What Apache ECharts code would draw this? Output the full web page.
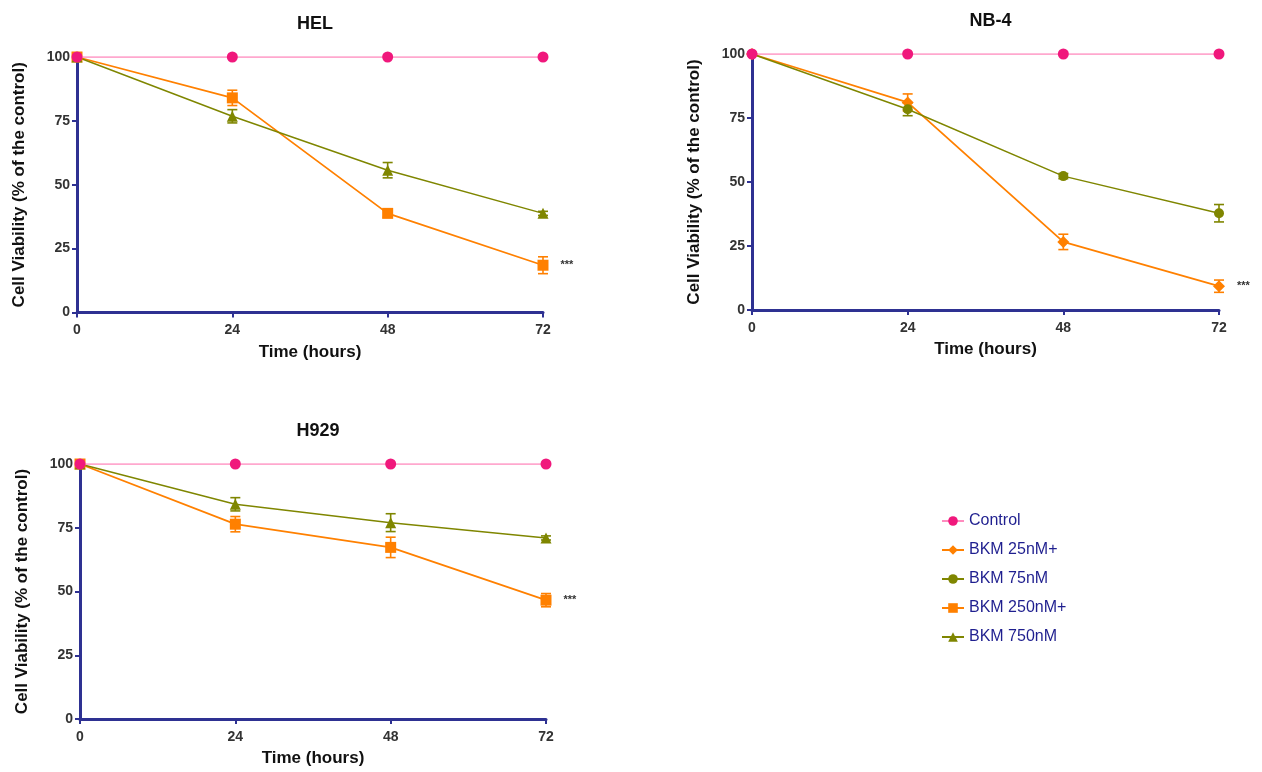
<!DOCTYPE html>
<html>
<head>
<meta charset="utf-8">
<script src="https://cdn.jsdelivr.net/npm/echarts@6/dist/echarts.min.js"></script>
<style>
html,body{margin:0;padding:0;background:#fff;}
#main{width:1262px;height:772px;}
</style>
</head>
<body>
<div id="main"></div>
<script>
// ---- Data ----
const timePoints = [0, 24, 48, 72];
const yTicks = [0, 25, 50, 75, 100];
const panelTitles = ['HEL', 'NB-4', 'H929'];
const seriesNames = ['Control', 'BKM 25nM+', 'BKM 75nM', 'BKM 250nM+', 'BKM 750nM'];

const helControl = [100, 100, 100, 100];
const helBKM250 = [100, 84.0, 38.8, 18.5];
const helBKM250Err = [0, 3.0, 1.5, 3.3];
const helBKM750 = [100, 76.8, 55.7, 38.8];
const helBKM750Err = [0, 2.6, 3.0, 0.8];

const nbControl = [100, 100, 100, 100];
const nbBKM25 = [100, 81.1, 26.6, 9.3];
const nbBKM25Err = [0, 3.3, 3.0, 2.4];
const nbBKM75 = [100, 78.4, 52.3, 37.8];
const nbBKM75Err = [0, 2.5, 1.0, 3.4];

const h929Control = [100, 100, 100, 100];
const h929BKM250 = [100, 76.4, 67.3, 46.6];
const h929BKM250Err = [0, 3.0, 4.0, 2.6];
const h929BKM750 = [100, 84.2, 77.0, 71.0];
const h929BKM750Err = [0, 2.6, 3.5, 0.8];

const sigLabel = '***';

// ---- Styles ----
const FONT = 'Arial, "Liberation Sans", sans-serif';
const AXIS_COLOR = '#2E3192';
const PINK = '#F0187C';
const PINK_LINE = '#FF8CBF';
const ORANGE = '#FF8000';
const OLIVE = '#7F8600';

const styles = {
  'Control': {color: PINK, line: PINK_LINE, symbol: 'circle', size: 11, width: 1.5},
  'BKM 25nM+': {color: ORANGE, line: ORANGE, symbol: 'diamond', size: 12, width: 1.8},
  'BKM 75nM': {color: OLIVE, line: OLIVE, symbol: 'circle', size: 10, width: 1.5},
  'BKM 250nM+': {color: ORANGE, line: ORANGE, symbol: 'rect', size: 11, width: 1.8},
  'BKM 750nM': {color: OLIVE, line: OLIVE, symbol: 'triangle', size: 11, width: 1.5}
};

const grids = [
  {left: 77, top: 57, width: 466, height: 255.5},
  {left: 752, top: 54, width: 467, height: 256},
  {left: 80, top: 464, width: 466, height: 255}
];

const panels = [
  [ ['Control', helControl, null, false], ['BKM 250nM+', helBKM250, helBKM250Err, true], ['BKM 750nM', helBKM750, helBKM750Err, false] ],
  [ ['Control', nbControl, null, false], ['BKM 25nM+', nbBKM25, nbBKM25Err, true], ['BKM 75nM', nbBKM75, nbBKM75Err, false] ],
  [ ['Control', h929Control, null, false], ['BKM 250nM+', h929BKM250, h929BKM250Err, true], ['BKM 750nM', h929BKM750, h929BKM750Err, false] ]
];

const xAxes = [], yAxes = [], titles = [], series = [], errSeries = [];

grids.forEach((g, i) => {
  xAxes.push({
    type: 'value', gridIndex: i, min: 0, max: 72, interval: 24,
    name: 'Time (hours)', nameLocation: 'middle', nameGap: 31,
    nameTextStyle: {fontFamily: FONT, fontWeight: 'bold', fontSize: 17, color: '#111'},
    axisLine: {show: true, lineStyle: {color: AXIS_COLOR, width: 3}},
    axisTick: {show: true, length: 5, lineStyle: {color: AXIS_COLOR, width: 2}},
    axisLabel: {fontFamily: FONT, fontWeight: 'bold', fontSize: 14, color: '#333', margin: 11},
    splitLine: {show: false}
  });
  yAxes.push({
    type: 'value', gridIndex: i, min: 0, max: 100, interval: 25,
    name: 'Cell Viability (% of the control)', nameLocation: 'middle', nameGap: 49,
    nameTextStyle: {fontFamily: FONT, fontWeight: 'bold', fontSize: 17, color: '#111'},
    axisLine: {show: true, lineStyle: {color: AXIS_COLOR, width: 3}},
    axisTick: {show: true, length: 5, lineStyle: {color: AXIS_COLOR, width: 2}},
    axisLabel: {fontFamily: FONT, fontWeight: 'bold', fontSize: 14, color: '#333', margin: 7},
    splitLine: {show: false}
  });
  titles.push({
    text: panelTitles[i], left: g.left + g.width / 2, top: g.top - 47, textAlign: 'center',
    textStyle: {fontFamily: FONT, fontWeight: 'bold', fontSize: 18, color: '#111'}
  });

  panels[i].forEach(([name, vals, errs, sig]) => {
    const st = styles[name];
    const data = vals.map((v, k) => {
      const item = {value: [timePoints[k], v]};
      if (sig && k === vals.length - 1) {
        item.label = {show: true, position: 'right', distance: 12, formatter: sigLabel,
          fontFamily: FONT, fontSize: 11, fontWeight: 'bold', color: '#333'};
      }
      return item;
    });
    series.push({
      type: 'line', name: name, xAxisIndex: i, yAxisIndex: i,
      data: data, symbol: st.symbol, symbolSize: st.size,
      z: name === 'Control' ? 5 : 3,
      itemStyle: {color: st.color},
      lineStyle: {color: st.line, width: st.width},
      emphasis: {disabled: true},
      animation: false
    });
    if (errs) {
      errSeries.push({
        type: 'custom', name: name, xAxisIndex: i, yAxisIndex: i, z: 2,
        data: vals.map((v, k) => [timePoints[k], v, errs[k]]),
        renderItem: function (params, api) {
          const x = api.value(0), m = api.value(1), e = api.value(2);
          if (!e) return null;
          const top = api.coord([x, m + e]);
          const bot = api.coord([x, m - e]);
          const half = 5;
          const ls = {stroke: st.color, lineWidth: 1.6};
          return {type: 'group', children: [
            {type: 'line', shape: {x1: top[0], y1: top[1], x2: bot[0], y2: bot[1]}, style: ls},
            {type: 'line', shape: {x1: top[0] - half, y1: top[1], x2: top[0] + half, y2: top[1]}, style: ls},
            {type: 'line', shape: {x1: bot[0] - half, y1: bot[1], x2: bot[0] + half, y2: bot[1]}, style: ls}
          ]};
        },
        animation: false
      });
    }
  });
});

const chart = echarts.init(document.getElementById('main'));
chart.setOption({
  backgroundColor: '#fff',
  animation: false,
  title: titles,
  grid: grids,
  xAxis: xAxes,
  yAxis: yAxes,
  legend: {
    data: seriesNames, orient: 'vertical', left: 936, top: 508,
    itemWidth: 22, itemHeight: 12, itemGap: 13,
    textStyle: {fontFamily: FONT, fontSize: 16, color: '#1F1F8F'}
  },
  series: series.concat(errSeries)
});
</script>
</body>
</html>
